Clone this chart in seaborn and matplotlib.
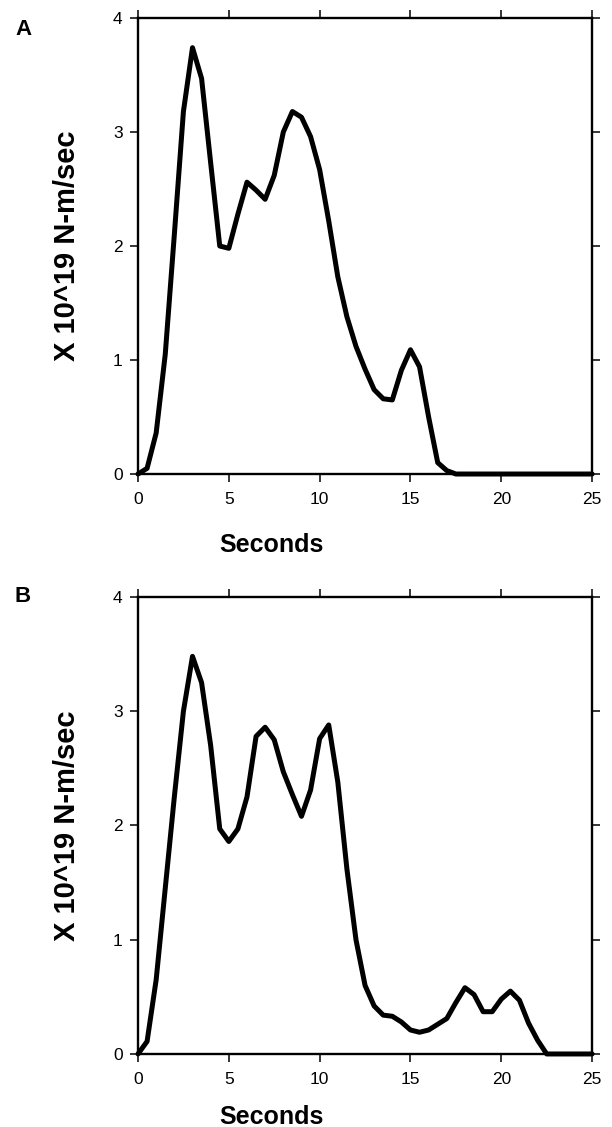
import numpy as np
import pandas as pd
import seaborn as sns
import matplotlib.pyplot as plt

# time samples (s), 0.5 s step
t = np.arange(0, 25.5, 0.5)

# panel A moment rate, X 10^19 N-m/sec
rate_a = [0.0, 0.05, 0.36, 1.05, 2.1, 3.18, 3.74, 3.47, 2.73, 2.0,
          1.98, 2.28, 2.56, 2.49, 2.41, 2.62, 3.0, 3.18, 3.13, 2.96,
          2.67, 2.22, 1.73, 1.38, 1.12, 0.92, 0.74, 0.66, 0.65, 0.91,
          1.09, 0.94, 0.5, 0.1, 0.03, 0.0]
# panel B moment rate
rate_b = [0.0, 0.11, 0.65, 1.45, 2.25, 3.0, 3.48, 3.25, 2.7, 1.97,
          1.86, 1.97, 2.25, 2.78, 2.86, 2.75, 2.47, 2.27, 2.08, 2.31,
          2.76, 2.88, 2.38, 1.62, 1.0, 0.6, 0.42, 0.34, 0.33, 0.28,
          0.21, 0.19, 0.21, 0.26, 0.31, 0.45, 0.58, 0.52, 0.37, 0.37,
          0.48, 0.55, 0.47, 0.27, 0.12, 0.0]

rate_a = rate_a + [0.0] * (len(t) - len(rate_a))
rate_b = rate_b + [0.0] * (len(t) - len(rate_b))

df = pd.DataFrame({'t': t, 'A': rate_a, 'B': rate_b})

xticks = [0, 5, 10, 15, 20, 25]
yticks = [0, 1, 2, 3, 4]

sns.set_style('ticks')
plt.rcParams['font.family'] = ['Liberation Sans', 'DejaVu Sans']
plt.rcParams['text.color'] = 'black'
plt.rcParams['axes.labelcolor'] = 'black'

fig = plt.figure(figsize=(6.12, 11.27), dpi=100)
ax_a = fig.add_axes([0.2255, 0.5794, 0.742, 0.4046])
ax_b = fig.add_axes([0.2255, 0.0648, 0.742, 0.4055])

for ax, col, lab, ytop, xlab_y in [(ax_a, 'A', 'A', 19, -0.13), (ax_b, 'B', 'B', 586, -0.112)]:
    sns.lineplot(data=df, x='t', y=col, ax=ax, color='black', linewidth=3.6, clip_on=False)
    ax.set_xlim(0, 25)
    ax.set_ylim(0, 4)
    ax.set_xticks(xticks)
    ax.set_yticks(yticks)
    ax.tick_params(axis='both', direction='out', length=6, width=1.1, labelsize=12.5,
                   top=True, right=True, labeltop=False, labelright=False, colors='black')
    ax.tick_params(axis='x', pad=7)
    ax.tick_params(axis='y', pad=5)
    for s in ax.spines.values():
        s.set_visible(True)
        s.set_linewidth(1.7)
        s.set_color('black')
    ax.set_xlabel('Seconds', fontsize=18, fontweight='bold', color='black')
    ax.set_ylabel('X 10^19 N-m/sec', fontsize=21, fontweight='bold', color='black')
    ax.xaxis.set_label_coords(0.295, xlab_y)
    ax.yaxis.set_label_coords(-0.125, 0.5)
    fig.text(15 / 612, 1 - ytop / 1127, lab, fontsize=16, fontweight='bold', va='top', ha='left',
             color='black')

fig.savefig('out.png', dpi=100)
